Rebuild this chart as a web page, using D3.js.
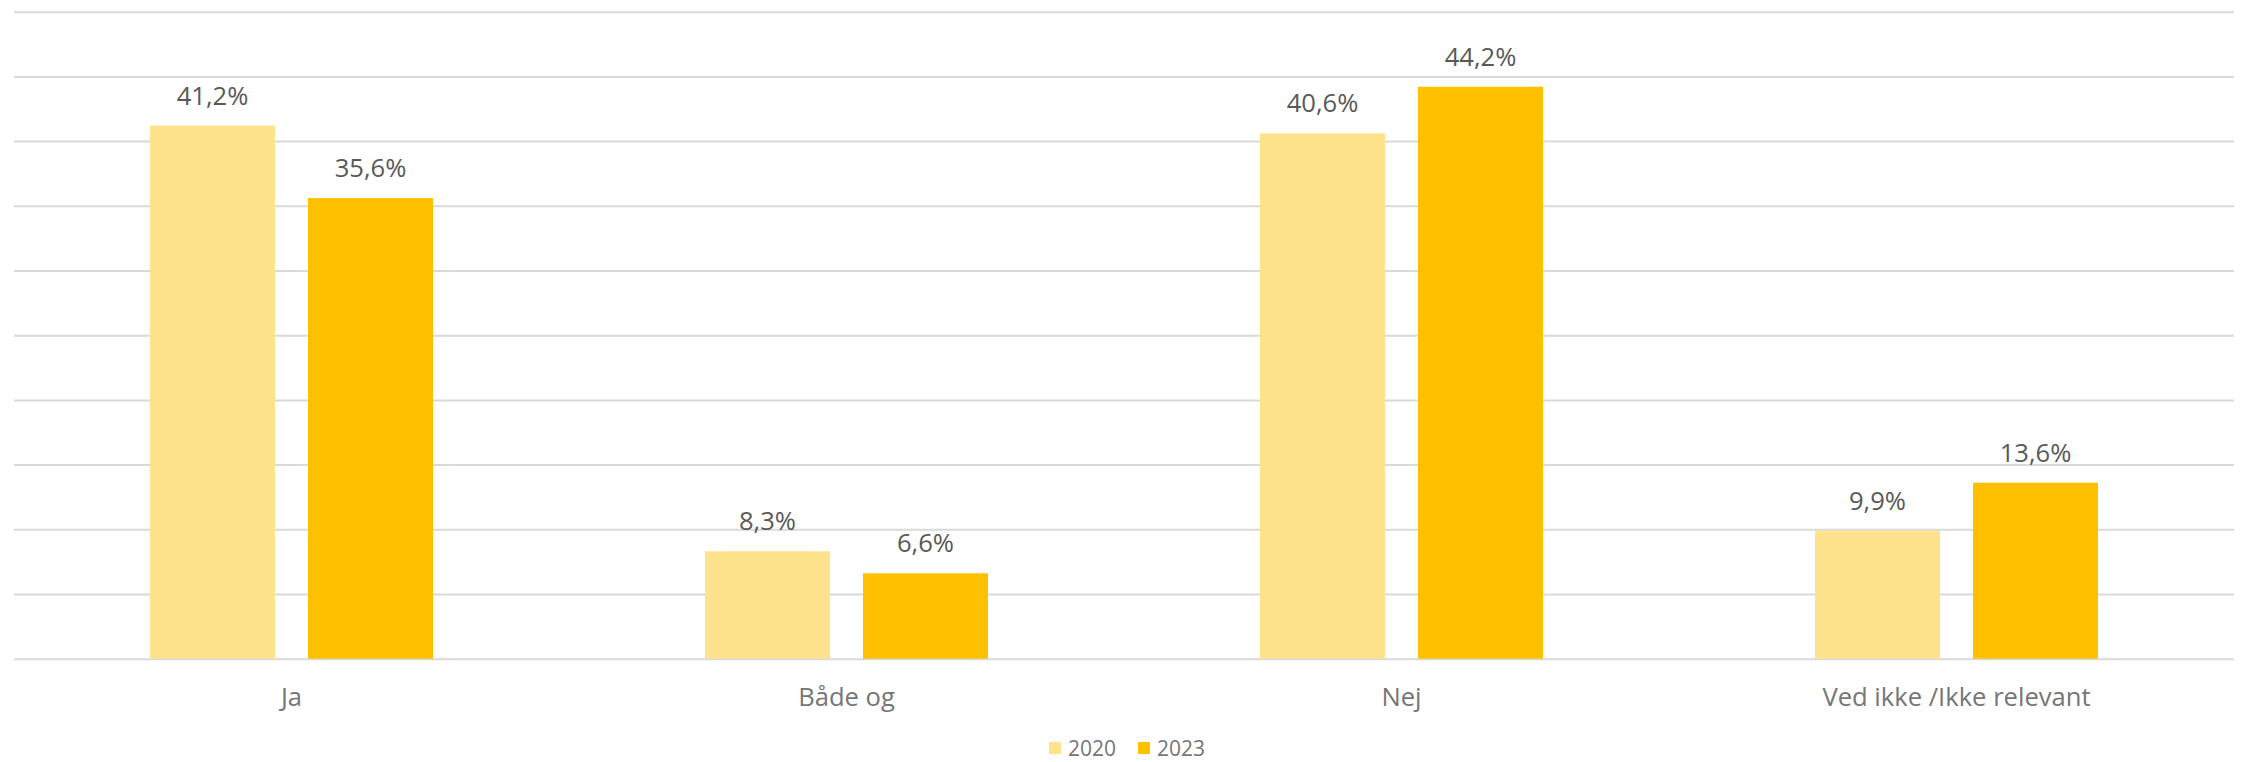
<!DOCTYPE html>
<html>
<head>
<meta charset="utf-8">
<title>Ja / Nej 2020-2023</title>
<script src="https://d3js.org/d3.v7.min.js"></script>
<style>
    body {
        margin: 0;
        padding: 0;
        background: #fff;
        font-family: 'Open Sans', sans-serif;
    }
    .grid line {
        stroke: #d9d9d9;
        stroke-width: 2;
    }
    .grid path {
        display: none;
    }
    .value-label {
        fill: #595959;
        font-size: 25.6px;
    }
    .cat-label {
        fill: #767676;
        font-size: 25.6px;
    }
    .legend text {
        fill: #767676;
        font-size: 21px;
    }
</style>
</head>
<body>
<div id="chart"></div>
<script>
    // data
    const categories = ["Ja", "Både og", "Nej", "Ved ikke /Ikke relevant"];
    const seriesNames = ["2020", "2023"];
    const values2020 = [41.2, 8.3, 40.6, 9.9];
    const values2023 = [35.6, 6.6, 44.2, 13.6];
    const yTicks = [0, 5, 10, 15, 20, 25, 30, 35, 40, 45, 50];
    const colors = ["#fee28c", "#ffc000"];

    const width = 2244;
    const height = 762;
    const plotLeft = 14, plotRight = 2234, plotTop = 11.7, plotBottom = 658.7;

    const rows = categories.map((c, i) => ({
        cat: c,
        vals: [values2020[i], values2023[i]]
    }));

    const svg = d3.select("#chart")
        .append("svg")
        .attr("width", width)
        .attr("height", height);

    const x0 = d3.scaleBand()
        .domain(categories)
        .range([plotLeft, plotRight])
        .padding(0);

    const x1 = d3.scaleBand()
        .domain(seriesNames)
        .range([136, 419])
        .paddingInner(33 / 158)
        .paddingOuter(0);

    const y = d3.scaleLinear()
        .domain([0, 50])
        .range([plotBottom, plotTop]);

    // horizontal gridlines
    svg.append("g")
        .attr("class", "grid")
        .attr("transform", `translate(${plotLeft},0)`)
        .call(d3.axisLeft(y)
            .tickValues(yTicks)
            .tickSize(-(plotRight - plotLeft))
            .tickFormat(""));

    const fmt = v => v.toFixed(1).replace(".", ",") + "%";

    const groups = svg.append("g")
        .selectAll("g")
        .data(rows)
        .enter()
        .append("g")
        .attr("transform", d => `translate(${x0(d.cat)},0)`);

    groups.selectAll("rect")
        .data(d => d.vals.map((v, i) => ({ key: seriesNames[i], v: v, i: i })))
        .enter()
        .append("rect")
        .attr("x", d => x1(d.key))
        .attr("y", d => y(d.v))
        .attr("width", x1.bandwidth())
        .attr("height", d => plotBottom - y(d.v))
        .attr("fill", d => colors[d.i]);

    groups.selectAll("text.value-label")
        .data(d => d.vals.map((v, i) => ({ key: seriesNames[i], v: v })))
        .enter()
        .append("text")
        .attr("class", "value-label")
        .attr("x", d => x1(d.key) + x1.bandwidth() / 2)
        .attr("y", d => y(d.v) - 21)
        .attr("text-anchor", "middle")
        .text(d => fmt(d.v));

    // category labels
    svg.append("g")
        .selectAll("text")
        .data(categories)
        .enter()
        .append("text")
        .attr("class", "cat-label")
        .attr("x", d => x0(d) + x0.bandwidth() / 2)
        .attr("y", 706)
        .attr("text-anchor", "middle")
        .text(d => d);

    // legend (nudged up a little so the text is not clipped by the bottom edge)
    const legendX = [1049, 1138];
    const legend = svg.append("g").attr("class", "legend");
    seriesNames.forEach((s, i) => {
        legend.append("rect")
            .attr("x", legendX[i])
            .attr("y", 742)
            .attr("width", 12)
            .attr("height", 12)
            .attr("fill", colors[i]);
        legend.append("text")
            .attr("x", legendX[i] + 19)
            .attr("y", 755.5)
            .text(s);
    });
</script>
</body>
</html>
